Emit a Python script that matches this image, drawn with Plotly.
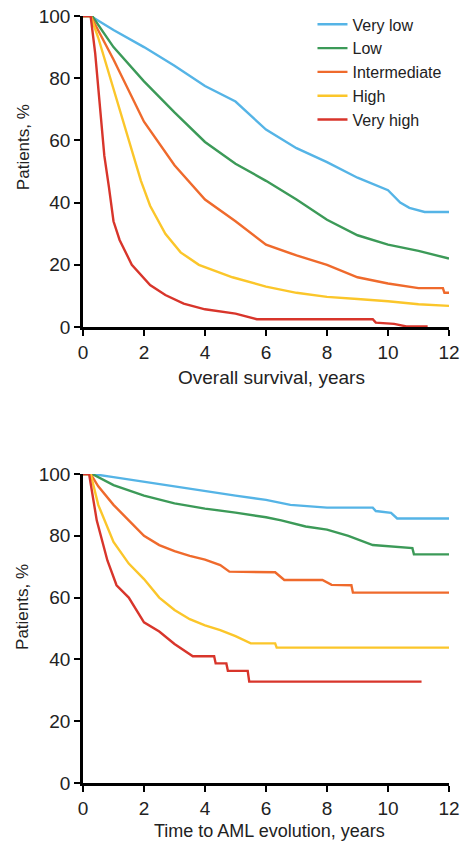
import plotly.graph_objects as go

# ---------------- data ----------------
categories = ["Very low", "Low", "Intermediate", "High", "Very high"]
colors = ["#55B4E6", "#3C9A58", "#EF6A2C", "#FBC62A", "#D8352B"]

# Overall survival (years, % patients)
os_very_low_t = [0, 0.25, 1, 2, 3, 4, 5, 6, 7, 8, 9, 10, 10.4, 10.7, 11.2, 12]
os_very_low_v = [100, 100, 95.5, 90, 84, 77.5, 72.5, 63.5, 57.5, 53, 48, 44, 40, 38.3, 37, 37]
os_low_t = [0, 0.3, 1, 2, 3, 4, 5, 6, 7, 8, 9, 10, 11, 12]
os_low_v = [100, 100, 90, 79, 69, 59.5, 52.5, 47, 41, 34.5, 29.5, 26.5, 24.5, 22]
os_int_t = [0, 0.25, 1, 2, 3, 4, 5, 6, 7, 8, 9, 10, 11, 11.8, 11.85, 12]
os_int_v = [100, 100, 86, 66, 52, 41, 34, 26.5, 23, 20, 16, 14, 12.5, 12.5, 11, 11]
os_high_t = [0, 0.25, 0.5, 0.9, 1.3, 1.9, 2.2, 2.7, 3.2, 3.8, 4.9, 6, 7, 8, 9, 10, 11, 12]
os_high_v = [100, 100, 93, 80, 67, 47, 39, 30, 24, 20, 16, 13, 11, 9.7, 9, 8.3, 7.3, 6.8]
os_vhigh_t = [0, 0.25, 0.4, 0.55, 0.7, 0.85, 1, 1.2, 1.6, 2.2, 2.7, 3.3, 4, 5, 5.7, 9.5, 9.6, 10.2, 10.6, 11.3]
os_vhigh_v = [100, 100, 88, 72, 55, 45, 34, 28, 20, 13.5, 10.3, 7.5, 5.7, 4.3, 2.5, 2.5, 1.4, 1, 0.2, 0.2]

# Time to AML evolution (years, % patients)
aml_very_low_t = [0, 0.3, 1, 2, 3, 4, 5, 6, 6.8, 8, 9.5, 9.6, 10.1, 10.3, 12]
aml_very_low_v = [100, 100, 99, 97.5, 96, 94.3, 93, 91.6, 90, 89.1, 89.1, 88, 87.4, 85.6, 85.6]
aml_low_t = [0, 0.3, 1, 2, 3, 4, 5, 6, 6.5, 7.3, 8, 8.7, 9.5, 10.2, 10.8, 10.85, 12]
aml_low_v = [100, 100, 96.4, 93, 90.5, 88.8, 87.5, 86, 85, 83, 82, 80, 77, 76.5, 76, 74, 74]
aml_int_t = [0, 0.25, 0.5, 1, 1.5, 2, 2.5, 3, 3.5, 4, 4.5, 4.8, 6.3, 6.6, 7.85, 8.15, 8.8, 8.85, 12]
aml_int_v = [100, 100, 96, 90, 85, 80, 77, 75, 73.5, 72.3, 70.5, 68.4, 68.2, 65.7, 65.7, 64.1, 64, 61.6, 61.6]
aml_high_t = [0, 0.25, 0.5, 1, 1.5, 2, 2.5, 3, 3.5, 4, 4.5, 5, 5.5, 6.3, 6.35, 12]
aml_high_v = [100, 100, 90, 78, 71, 66, 60, 56, 53, 51, 49.5, 47.5, 45.2, 45.2, 43.8, 43.8]
aml_vhigh_t = [0, 0.2, 0.45, 0.8, 1.1, 1.5, 2, 2.5, 3, 3.3, 3.6, 4.3, 4.35, 4.7, 4.75, 5.4, 5.45, 11.1]
aml_vhigh_v = [100, 100, 85, 72, 64, 60, 52, 49, 45, 43, 41, 41, 38.7, 38.7, 36.3, 36.3, 32.8, 32.8]

x_ticks = [0, 2, 4, 6, 8, 10, 12]
y_ticks = [0, 20, 40, 60, 80, 100]

os_series = [(os_very_low_t, os_very_low_v), (os_low_t, os_low_v), (os_int_t, os_int_v),
             (os_high_t, os_high_v), (os_vhigh_t, os_vhigh_v)]
aml_series = [(aml_very_low_t, aml_very_low_v), (aml_low_t, aml_low_v), (aml_int_t, aml_int_v),
              (aml_high_t, aml_high_v), (aml_vhigh_t, aml_vhigh_v)]

FONT = "Liberation Sans, Arial, sans-serif"
TXT = "#222"

fig = go.Figure()
for name, col, (t, v) in zip(categories, colors, os_series):
    fig.add_trace(go.Scatter(x=t, y=v, mode="lines", name=name,
                             line=dict(color=col, width=2.4), xaxis="x", yaxis="y"))
for name, col, (t, v) in zip(categories, colors, aml_series):
    fig.add_trace(go.Scatter(x=t, y=v, mode="lines", name=name, showlegend=False,
                             line=dict(color=col, width=2.4), xaxis="x2", yaxis="y2"))

axis_common = dict(showline=True, linecolor="black", linewidth=2.5, ticks="outside",
                   ticklen=6, tickwidth=2, tickcolor="black", showgrid=False, zeroline=False,
                   automargin=False, ticklabeloverflow="allow",
                   tickfont=dict(family=FONT, size=19, color=TXT))

annotations = [
    dict(text="Overall survival, years", x=0.515, y=0.529, xref="paper", yref="paper",
         showarrow=False, xanchor="center", yanchor="middle", font=dict(family=FONT, size=19, color=TXT)),
    dict(text="Time to AML evolution, years", x=0.51, y=-0.0625, xref="paper", yref="paper",
         showarrow=False, xanchor="center", yanchor="middle", font=dict(family=FONT, size=18, color=TXT)),
    dict(text="Patients, %", x=-0.164, y=0.829, xref="paper", yref="paper", textangle=-90,
         showarrow=False, xanchor="center", yanchor="middle", font=dict(family=FONT, size=17, color=TXT)),
    dict(text="Patients, %", x=-0.164, y=0.2295, xref="paper", yref="paper", textangle=-90,
         showarrow=False, xanchor="center", yanchor="middle", font=dict(family=FONT, size=17, color=TXT)),
]

fig.update_layout(
    template="none",
    width=472, height=841,
    margin=dict(l=83, r=23, t=16, b=58, autoexpand=False),
    plot_bgcolor="white", paper_bgcolor="white",
    font=dict(family=FONT, color=TXT),
    xaxis=dict(domain=[0, 1], range=[0, 12], tickvals=x_ticks, anchor="y", **axis_common),
    yaxis=dict(domain=[0.5945, 1], range=[0, 100], tickvals=y_ticks, anchor="x", **axis_common),
    xaxis2=dict(domain=[0, 1], range=[0, 12], tickvals=x_ticks, anchor="y2", **axis_common),
    yaxis2=dict(domain=[0, 0.4029], range=[0, 100], tickvals=y_ticks, anchor="x2", **axis_common),
    annotations=annotations,
    legend=dict(x=0.627, y=1.0112, xanchor="left", yanchor="top", bgcolor="rgba(0,0,0,0)",
                font=dict(family=FONT, size=16, color=TXT), itemwidth=30, tracegroupgap=0),
    showlegend=True,
)

fig.write_html(
    "out.html",
    config={"displayModeBar": False},
    post_script="document.body.style.margin='0';document.documentElement.style.overflow='hidden';",
)
